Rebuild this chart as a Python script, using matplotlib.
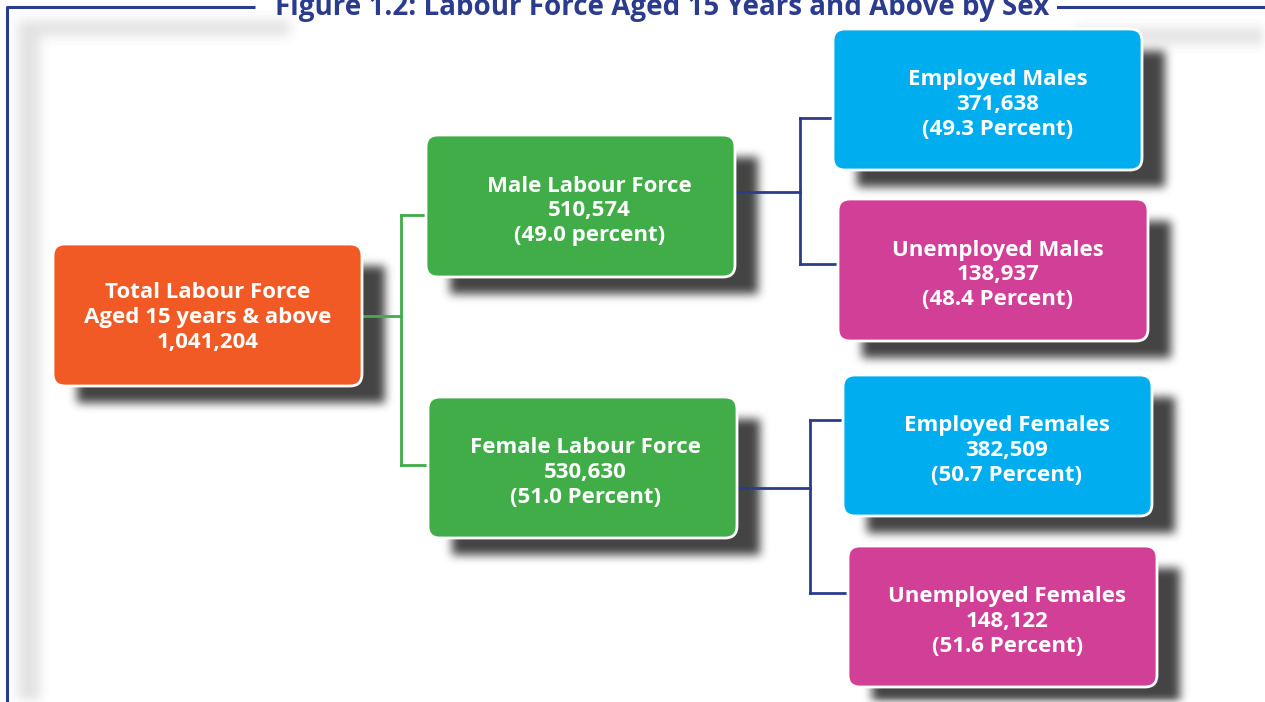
"""
Figure 1.2: Labour Force Aged 15 Years and Above by Sex (tree diagram).
"""

import matplotlib

matplotlib.use('Agg')
import matplotlib.pyplot as plt
import numpy as np
from matplotlib.patches import FancyBboxPatch

# --- data -------------------------------------------------------------
node_names = [
    "Total Labour Force\nAged 15 years & above",
    "Male Labour Force",
    "Female Labour Force",
    "Employed Males",
    "Unemployed Males",
    "Employed Females",
    "Unemployed Females",
]
node_counts = [1041204, 510574, 530630, 371638, 138937, 382509, 148122]
node_shares = [None, "49.0 percent", "51.0 Percent", "49.3 Percent",
               "48.4 Percent", "50.7 Percent", "51.6 Percent"]
# parent index for each node (tree structure)
node_parent = [None, 0, 0, 1, 1, 2, 2]

TITLE = "Figure 1.2: Labour Force Aged 15 Years and Above by Sex"

# --- layout (pixels, y down) ------------------------------------------
W, H = 1265, 702
BOXES = [
    (53, 244, 309, 142),
    (426, 135, 309, 142),
    (428, 397, 309, 141),
    (833, 29, 309, 141),
    (838, 199, 310, 142),
    (843, 375, 309, 141),
    (848, 546, 309, 141),
]
COLORS = ["#F15A24", "#41AD49", "#41AD49", "#00AEEF", "#D13F96",
          "#00AEEF", "#D13F96"]
TEXT_DX = [0, 9, 3, 10, 5, 9, 5]
# branch x, parent-side y, child-side y for each connector
BRANCHES = {0: (401, 316, [215, 465]),
            1: (800, 192, [118, 264]),
            2: (810, 488, [420, 593])}
BLUE = "#2B3C8F"
GREEN = "#41AD49"
FONT = "Open Sans"


def blur(img, r, n=3):
    """Repeated box blur (approx. gaussian)."""
    out = img.copy()
    k = np.ones(2 * r + 1) / (2 * r + 1)
    for _ in range(n):
        out = np.apply_along_axis(lambda v: np.convolve(v, k, mode="same"), 0, out)
        out = np.apply_along_axis(lambda v: np.convolve(v, k, mode="same"), 1, out)
    return out


fig = plt.figure(figsize=(W / 100, H / 100), dpi=100)
ax = fig.add_axes([0, 0, 1, 1])
ax.set_xlim(0, W)
ax.set_ylim(H, 0)
ax.axis("off")

# soft page shadow
page = np.zeros((H, W))
page[20:36, 20:290] = 1.0
page[20:H, 18:40] = 1.0
page[28:44, 1075:W] = 1.0
page = blur(page, 5) * 0.14

# box drop shadows
shadow = np.zeros((H, W))
for (x, y, w, h) in BOXES:
    shadow[y + 22:y + h + 17, x + 24:x + w + 23] = 1.0
shadow = np.clip(blur(shadow, 4) * 0.92 + page, 0, 1)
rgba = np.zeros((H, W, 4))
rgba[..., :3] = 0.2
rgba[..., 3] = shadow
ax.imshow(rgba, extent=(0, W, H, 0), zorder=1, interpolation="bilinear")

# frame with title gap
ax.plot([7, 7, 255], [H, 7, 7], color=BLUE, lw=2.2, zorder=2,
        solid_capstyle="butt")
ax.plot([1058, W], [7, 7], color=BLUE, lw=2.2, zorder=2)
ax.text(662, 15, TITLE, ha="center", va="baseline", fontsize=20,
        fontweight="bold", color=BLUE, family=FONT, zorder=5)

# connectors
for parent, (bx, mid, ky) in BRANCHES.items():
    px, py, pw, ph = BOXES[parent]
    kids = [i for i, p in enumerate(node_parent) if p == parent]
    col = GREEN if parent == 0 else BLUE
    ax.plot([px + pw, bx], [mid, mid], color=col, lw=2, zorder=2)
    ax.plot([bx, bx], [ky[0], ky[1]], color=col, lw=2, zorder=2)
    for k, yy in zip(kids, ky):
        ax.plot([bx, BOXES[k][0]], [yy, yy], color=col, lw=2, zorder=2)

# boxes and labels
for i, (x, y, w, h) in enumerate(BOXES):
    r = 12
    box = FancyBboxPatch((x + r, y + r), w - 2 * r, h - 2 * r,
                         boxstyle=f"round,pad={r},rounding_size={r}",
                         facecolor=COLORS[i], edgecolor="white", lw=2,
                         zorder=3)
    ax.add_patch(box)
    if node_shares[i] is None:
        label = f"{node_names[i]}\n{node_counts[i]:,}"
        cy = y + h * 0.52
    else:
        label = f"{node_names[i]}\n{node_counts[i]:,}\n({node_shares[i]})"
        cy = y + h * 0.535
    ax.text(x + w / 2 + TEXT_DX[i], cy, label, ha="center", va="center",
            color="white", fontsize=16, fontweight="bold", family=FONT,
            linespacing=1.24, zorder=4)

plt.savefig("out.png", dpi=100)
plt.close(fig)
